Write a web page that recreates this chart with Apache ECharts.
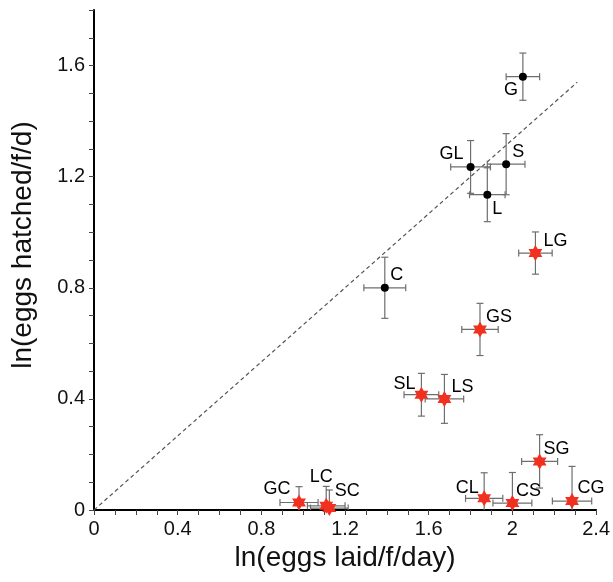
<!DOCTYPE html>
<html>
<head>
<meta charset="utf-8">
<script src="https://cdn.jsdelivr.net/npm/echarts@6/dist/echarts.min.js"></script>
<style>
html, body { margin: 0; padding: 0; background: #fff; }
#chart { width: 613px; height: 582px; }
</style>
</head>
<body>
<div id="chart"></div>
<script>
// parental lines (black dots)
var ctrlNames = ['G', 'GL', 'S', 'L', 'C'];
var ctrlX = [2.05, 1.80, 1.97, 1.88, 1.39];
var ctrlY = [1.56, 1.235, 1.245, 1.135, 0.80];
var ctrlXErr = [0.08, 0.095, 0.09, 0.085, 0.10];
var ctrlYErr = [0.085, 0.095, 0.11, 0.097, 0.11];

// crosses (red stars)
var crossNames = ['LG', 'GS', 'SL', 'LS', 'SG', 'CG', 'CS', 'CL', 'GC', 'LC', 'SC'];
var crossX = [2.11, 1.845, 1.565, 1.675, 2.13, 2.285, 2.0, 1.865, 0.98, 1.11, 1.125];
var crossY = [0.925, 0.65, 0.415, 0.40, 0.175, 0.032, 0.025, 0.042, 0.027, 0.015, 0.007];
var crossXErr = [0.08, 0.087, 0.083, 0.092, 0.086, 0.094, 0.093, 0.089, 0.091, 0.09, 0.09];
var crossYErr = [0.076, 0.094, 0.077, 0.088, 0.096, 0.125, 0.11, 0.092, 0.057, 0.07, 0.065];

// dashed reference line
var diagLine = [[0, 0], [2.31, 1.54]];

var xTicks = ['0', '0.4', '0.8', '1.2', '1.6', '2', '2.4'];
var yTicks = ['0', '0.4', '0.8', '1.2', '1.6'];

// where each label sits relative to its point (pixels)
var labelOffset = {
	G: [-12, 13], GL: [-19, -13], S: [12, -12], L: [10, 14], C: [12, -13],
	LG: [20, -12], GS: [19, -12], SL: [-17, -11], LS: [18, -12], SG: [17, -12],
	CG: [19, -13], CS: [16, -12], CL: [-17, -10], GC: [-22, -13], LC: [-5, -29], SC: [18, -17]
};

var font = 'Liberation Sans, Arial, sans-serif';
var starPath = 'path://M100 0L128.9 50L186.6 50L157.7 100L186.6 150L128.9 150L100 200L71.1 150L13.4 150L42.3 100L13.4 50L71.1 50Z';

function errData(xs, ys, xe, ye) {
	return xs.map(function(x, i) {
		return [x, ys[i], xe[i], ye[i]];
	});
}

function pointData(names, xs, ys) {
	return names.map(function(n, i) {
		return {
			name: n,
			value: [xs[i], ys[i]],
			label: { offset: labelOffset[n] }
		};
	});
}

function renderErr(params, api) {
	var x = api.value(0), y = api.value(1);
	var xe = api.value(2), ye = api.value(3);
	var l = api.coord([x - xe, y]);
	var r = api.coord([x + xe, y]);
	var t = api.coord([x, y + ye]);
	var b = api.coord([x, y - ye]);
	var c = 3.5;
	var style = { stroke: '#6e6e6e', lineWidth: 1.2 };
	var segs = [
		[l, r],
		[[l[0], l[1] - c], [l[0], l[1] + c]],
		[[r[0], r[1] - c], [r[0], r[1] + c]],
		[t, b],
		[[t[0] - c, t[1]], [t[0] + c, t[1]]],
		[[b[0] - c, b[1]], [b[0] + c, b[1]]]
	];
	return {
		type: 'group',
		children: segs.map(function(s) {
			return {
				type: 'line',
				shape: { x1: s[0][0], y1: s[0][1], x2: s[1][0], y2: s[1][1] },
				style: style
			};
		})
	};
}

function tickLabel(list) {
	return function(v) {
		var k = Math.round(v * 10);
		if (k % 4 !== 0) return '';
		return list[k / 4] || '';
	};
}

var labelStyle = {
	show: true,
	position: 'inside',
	formatter: '{b}',
	color: '#000',
	fontSize: 18,
	fontFamily: font
};

var myChart = echarts.init(document.getElementById('chart'));

var option = {
	animation: false,
	backgroundColor: '#fff',
	grid: { left: 94, right: 15, top: 10, bottom: 72 },
	xAxis: {
		type: 'value',
		min: 0,
		max: 2.4,
		interval: 0.1,
		name: 'ln(eggs laid/f/day)',
		nameLocation: 'middle',
		nameGap: 33,
		nameTextStyle: { fontSize: 28, color: '#111', fontFamily: font },
		axisLine: { lineStyle: { color: '#000', width: 2 } },
		axisTick: { length: 5, lineStyle: { color: '#444', width: 1 } },
		axisLabel: { formatter: tickLabel(xTicks), fontSize: 20, color: '#111', fontFamily: font, margin: 9 },
		splitLine: { show: false }
	},
	yAxis: {
		type: 'value',
		min: 0,
		max: 1.8,
		interval: 0.1,
		name: 'ln(eggs hatched/f/d)',
		nameLocation: 'middle',
		nameGap: 57,
		nameTextStyle: { fontSize: 28, color: '#111', fontFamily: font, padding: [0, 0, 0, 30] },
		axisLine: { lineStyle: { color: '#000', width: 2 } },
		axisTick: { length: 5, lineStyle: { color: '#444', width: 1 } },
		axisLabel: { formatter: tickLabel(yTicks), fontSize: 20, color: '#111', fontFamily: font, margin: 9 },
		splitLine: { show: false }
	},
	series: [{
		type: 'line',
		data: diagLine,
		symbol: 'none',
		lineStyle: { color: '#555', width: 1.2, type: [4, 3] },
		z: 1
	}, {
		type: 'custom',
		renderItem: renderErr,
		data: errData(ctrlX, ctrlY, ctrlXErr, ctrlYErr),
		clip: true,
		z: 2
	}, {
		type: 'custom',
		renderItem: renderErr,
		data: errData(crossX, crossY, crossXErr, crossYErr),
		clip: true,
		z: 2
	}, {
		type: 'scatter',
		data: pointData(ctrlNames, ctrlX, ctrlY),
		symbol: 'circle',
		symbolSize: 8,
		itemStyle: { color: '#000', opacity: 1 },
		label: labelStyle,
		z: 3
	}, {
		type: 'scatter',
		data: pointData(crossNames, crossX, crossY),
		symbol: starPath,
		symbolKeepAspect: true,
		symbolSize: 16,
		itemStyle: { color: '#f2301f', opacity: 1 },
		label: labelStyle,
		z: 3
	}]
};

myChart.setOption(option);
</script>
</body>
</html>
